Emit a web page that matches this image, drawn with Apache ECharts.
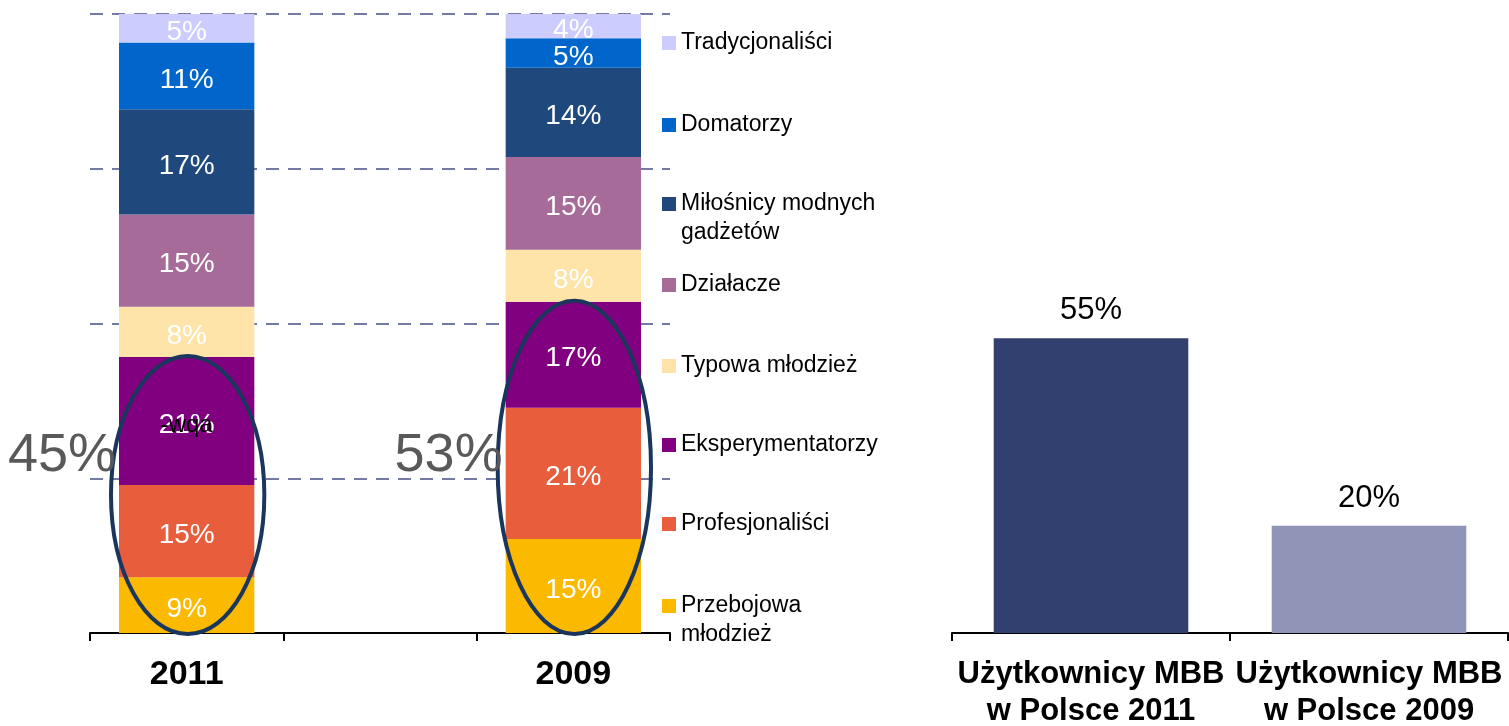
<!DOCTYPE html>
<html>
<head>
<meta charset="utf-8">
<script src="https://cdn.jsdelivr.net/npm/echarts@6/dist/echarts.min.js"></script>
<style>
  html, body { margin: 0; padding: 0; background: #fff; }
  #chart { width: 1509px; height: 726px; }
</style>
</head>
<body>
<div id="chart"></div>
<script>
// kategorie wykresu segmentów
const years = ['2011', '', '2009']

// segmenty od dołu do góry (udział w %)
const segmentNames = [
  'Przebojowa\nmłodzież',
  'Profesjonaliści',
  'Eksperymentatorzy',
  'Typowa młodzież',
  'Działacze',
  'Miłośnicy modnych\ngadżetów',
  'Domatorzy',
  'Tradycjonaliści'
]
const segmentColors = ['#fbba00', '#e85d3b', '#800080', '#ffe4a9', '#a66b98', '#1f497d', '#0066cc', '#ccccff']
const values2011 = [9.0, 14.9, 20.7, 8.1, 14.9, 17.0, 10.8, 4.6]
const values2009 = [15.2, 21.2, 17.1, 8.4, 15.0, 14.4, 4.8, 3.9]

// użytkownicy MBB
const mbbCategories = ['Użytkownicy MBB\nw Polsce 2011', 'Użytkownicy MBB\nw Polsce 2009']
const mbbValues = [55, 20]
const mbbColors = ['#31406f', '#8f93b5']

// legenda od góry do dołu, środek ikony (px)
const legendOrder = [7, 6, 5, 4, 3, 2, 1, 0]
const legendCenters = [43, 125, 204, 285, 366, 445, 524, 606]

const font = "'Liberation Sans', Arial, sans-serif"
const chart = echarts.init(document.getElementById('chart'))

const pct = v => Math.round(v) + '%'

const stackSeries = segmentNames.map((name, i) => ({
  name,
  type: 'bar',
  stack: 'seg',
  xAxisIndex: 0,
  yAxisIndex: 0,
  barWidth: '70%',
  data: [values2011[i], '-', values2009[i]],
  itemStyle: { color: segmentColors[i] },
  label: {
    show: true,
    position: 'inside',
    offset: [0, 4],
    color: '#fff',
    fontSize: 28,
    fontFamily: font,
    formatter: p => pct(p.value)
  }
}))

// dwuliniowe pozycje: pusta linia na górze, żeby pierwsza linia stała przy ikonie
const legends = legendOrder.map((idx, k) => {
  const twoLine = segmentNames[idx].includes('\n')
  return {
    data: [segmentNames[idx]],
    left: 662,
    top: legendCenters[k] - (twoLine ? 43.5 : 14.5),
    padding: 0,
    icon: 'rect',
    itemWidth: 14,
    itemHeight: 14,
    selectedMode: false,
    formatter: name => (name.includes('\n') ? '\n' + name : name),
    textStyle: {
      fontSize: 23,
      lineHeight: 29,
      color: '#000',
      fontFamily: font
    }
  }
})

chart.setOption({
  animation: false,
  legend: legends,
  grid: [
    { left: 90, right: 839, top: 14, bottom: 93, outerBoundsMode: 'none' },
    { left: 952, right: 1, top: 97, bottom: 93, outerBoundsMode: 'none' }
  ],
  xAxis: [
    {
      type: 'category',
      gridIndex: 0,
      data: years,
      axisLine: { lineStyle: { color: '#000', width: 2 } },
      axisTick: { show: true, length: 8, lineStyle: { color: '#000', width: 2 } },
      axisLabel: { color: '#000', fontSize: 34, fontWeight: 'bold', fontFamily: font, margin: 25, interval: 0 }
    },
    {
      type: 'category',
      gridIndex: 1,
      data: mbbCategories,
      axisLine: { lineStyle: { color: '#000', width: 2 } },
      axisTick: { show: true, length: 8, lineStyle: { color: '#000', width: 2 } },
      axisLabel: { color: '#000', fontSize: 31, lineHeight: 37, fontWeight: 'bold', fontFamily: font, margin: 23, interval: 0 }
    }
  ],
  yAxis: [
    {
      type: 'value',
      gridIndex: 0,
      min: 0,
      max: 100,
      interval: 25,
      axisLabel: { show: false },
      axisLine: { show: false },
      axisTick: { show: false },
      splitLine: { lineStyle: { color: '#7479a5', width: 2, type: [13, 9] } }
    },
    {
      type: 'value',
      gridIndex: 1,
      min: 0,
      max: 100,
      axisLabel: { show: false },
      axisLine: { show: false },
      axisTick: { show: false },
      splitLine: { show: false }
    }
  ],
  series: [
    ...stackSeries,
    {
      name: 'MBB',
      type: 'bar',
      xAxisIndex: 1,
      yAxisIndex: 1,
      barWidth: '70%',
      data: mbbValues.map((v, i) => ({ value: v, itemStyle: { color: mbbColors[i] } })),
      label: {
        show: true,
        position: 'top',
        distance: 12,
        color: '#000',
        fontSize: 31,
        fontFamily: font,
        formatter: p => p.value + '%'
      }
    }
  ]
})

// elipsy wokół trzech dolnych segmentów + sumy
const drawAnnotations = () => {
  const toPx = pt => chart.convertToPixel({ xAxisIndex: 0, yAxisIndex: 0 }, pt)
  const band = toPx([1, 0])[0] - toPx([0, 0])[0]
  const rx = band * 0.35 + 9
  const elements = []
  ;[[0, values2011], [2, values2009]].forEach(([ci, vals]) => {
    const bottom3 = vals.slice(0, 3)
    const top = bottom3.reduce((a, b) => a + b, 0)
    const [cx, y0] = toPx([ci, 0])
    const y1 = toPx([ci, top])[1]
    elements.push({
      type: 'ellipse',
      shape: { cx: cx + 1, cy: (y0 + y1) / 2, rx, ry: (y0 - y1) / 2 + 1 },
      style: { fill: 'none', stroke: '#1b365d', lineWidth: 4 },
      z: 100
    })
    const total = bottom3.reduce((a, b) => a + Math.round(b), 0)
    elements.push({
      type: 'text',
      x: cx - rx + 6,
      y: toPx([ci, 28.5])[1],
      style: {
        text: total + '%',
        fontSize: 54,
        fontFamily: font,
        fill: '#595959',
        align: 'right',
        verticalAlign: 'middle'
      },
      z: 100
    })
  })
  // czarny dopisek nad etykietą 21%
  const mid = toPx([0, values2011[0] + values2011[1] + values2011[2] / 2])
  elements.push({
    type: 'text',
    x: mid[0],
    y: mid[1] + 4,
    style: {
      text: '-wqa',
      fontSize: 24,
      fontFamily: font,
      fill: '#000',
      align: 'center',
      verticalAlign: 'middle'
    },
    z: 101
  })
  chart.setOption({ graphic: elements })
}

drawAnnotations()
</script>
</body>
</html>
